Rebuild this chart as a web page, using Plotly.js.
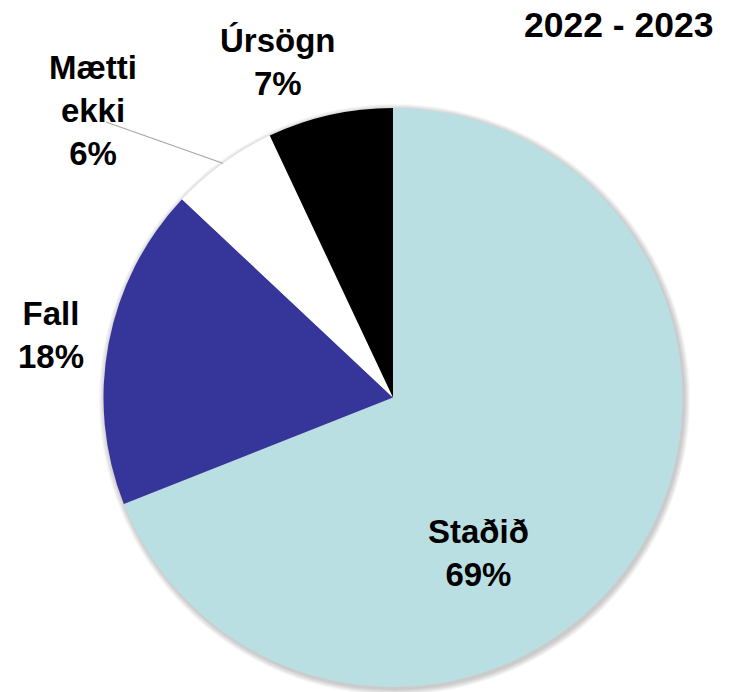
<!DOCTYPE html>
<html>
<head>
<meta charset="utf-8">
<script src="https://cdn.plot.ly/plotly-3.0.1.min.js"></script>
<style>html,body{margin:0;padding:0;background:#fff;}#chart{width:733px;height:692px;}</style>
</head>
<body>
<div id="chart"></div>
<script>
const categories = ["Staðið", "Fall", "Mætti ekki", "Úrsögn"];
const labelText = ["Staðið", "Fall", "Mætti<br>ekki", "Úrsögn"];
const values = [69, 18, 6, 7];
const colors = ["#BADFE2", "#35359A", "#FFFFFF", "#000000"];
const chartTitle = "2022 - 2023";

const W = 733, H = 692;
const cx = 393, cy = 397.5, R = 289.5;
const domX = [(cx - R) / W, (cx + R) / W];
const domY = [1 - (cy + R) / H, 1 - (cy - R) / H];

const total = values.reduce((a, b) => a + b, 0);
const pct = values.map(v => Math.round(v / total * 100));

// label positions (px from top-left)
const labelPos = [[478, 553], [51, 335], [93, 111], [278, 62]];
const annotations = labelText.map((t, i) => ({
  xref: 'paper', yref: 'paper',
  x: labelPos[i][0] / W, y: 1 - labelPos[i][1] / H,
  xanchor: 'center', yanchor: 'middle',
  text: '<b>' + t + '<br>' + pct[i] + '%</b>',
  showarrow: false,
  font: {family: 'Liberation Sans, Arial, sans-serif', size: 33, color: '#000'}
}));
annotations.push({
  xref: 'paper', yref: 'paper', x: 619 / W, y: 1 - 25 / H,
  xanchor: 'center', yanchor: 'middle', showarrow: false,
  text: '<b>' + chartTitle + '</b>',
  font: {family: 'Liberation Sans, Arial, sans-serif', size: 35.5, color: '#000'}
});

// leader line for "Mætti ekki" from the arc at slice mid-angle
let cum = 0;
for (let i = 0; i < 2; i++) cum += values[i];
const midFrac = (cum + values[2] / 2) / total;
const ang = midFrac * 2 * Math.PI;
const ex = cx + R * Math.sin(ang), ey = cy - R * Math.cos(ang);
const shapes = [];
// soft shadow
for (let k = 1; k <= 6; k++) {
  const r = R + k;
  shapes.push({type: 'circle', xref: 'paper', yref: 'paper', layer: 'below',
    x0: (cx + 1.5 - r) / W, x1: (cx + 1.5 + r) / W,
    y0: 1 - (cy + 2 + r) / H, y1: 1 - (cy + 2 - r) / H,
    fillcolor: 'rgba(0,0,0,0.035)', line: {width: 0}});
}
shapes.push({type: 'line', xref: 'paper', yref: 'paper', layer: 'above',
  x0: 106 / W, y0: 1 - 122 / H, x1: ex / W, y1: 1 - ey / H,
  line: {color: '#A6A6A6', width: 1.2}});

const trace = {
  type: 'pie',
  labels: categories,
  values: values,
  sort: false,
  direction: 'clockwise',
  rotation: 0,
  textinfo: 'none',
  hoverinfo: 'label+percent',
  marker: {colors: colors, line: {width: 0}},
  domain: {x: domX, y: domY},
  showlegend: false
};

Plotly.newPlot('chart', [trace], {
  width: W, height: H,
  margin: {l: 0, r: 0, t: 0, b: 0},
  paper_bgcolor: '#fff',
  showlegend: false,
  annotations: annotations,
  shapes: shapes
}, {displayModeBar: false, staticPlot: true});
</script>
</body>
</html>
